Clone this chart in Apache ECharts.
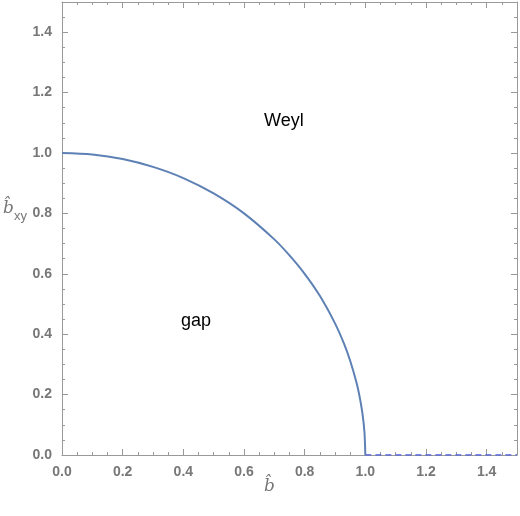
<!DOCTYPE html>
<html>
<head>
<meta charset="utf-8">
<script src="https://cdn.jsdelivr.net/npm/echarts@6/dist/echarts.min.js"></script>
<style>html,body{margin:0;padding:0;background:#fff}#chart{width:520px;height:516px}</style>
</head>
<body>
<div id="chart"></div>
<script>
// phase boundary
const boundaryB = [0, 0.1, 0.2, 0.3, 0.4, 0.5, 0.6, 0.7, 0.75, 0.8, 0.85, 0.9, 0.93, 0.95, 0.97, 0.98, 0.99, 0.997, 1.0];
const boundaryBxy = [1.0, 0.995, 0.98, 0.954, 0.917, 0.866, 0.8, 0.714, 0.661, 0.6, 0.527, 0.436, 0.368, 0.312, 0.243, 0.199, 0.141, 0.077, 0.0];
const dashedB = [1.0, 1.5];
const dashedBxy = [0, 0];
const tickLabels = ['0.0', '0.2', '0.4', '0.6', '0.8', '1.0', '1.2', '1.4'];

const chart = echarts.init(document.getElementById('chart'));

const axisCommon = {
    type: 'value', min: 0, max: 1.5, interval: 0.2,
    axisLine: { show: true, onZero: false, lineStyle: { color: '#999', width: 1 } },
    axisTick: { show: true, inside: true, length: 6, lineStyle: { color: '#999' } },
    minorTick: { show: true, splitNumber: 4, length: 3, lineStyle: { color: '#999' } },
    splitLine: { show: false },
    axisLabel: {
        color: '#777', fontSize: 14, fontWeight: 'bold', fontFamily: 'Liberation Sans', margin: 10,
        formatter: v => tickLabels[Math.round(v / 0.2)] || ''
    }
};
const hidden = { axisLabel: { show: false } };

const option = {
    animation: false,
    grid: { left: 62, right: 3, top: 2, bottom: 61 },
    xAxis: [
        Object.assign({}, axisCommon, { position: 'bottom' }),
        Object.assign({}, axisCommon, hidden, { position: 'top' })
    ],
    yAxis: [
        Object.assign({}, axisCommon, { position: 'left' }),
        Object.assign({}, axisCommon, hidden, { position: 'right' })
    ],
    series: [{
        type: 'line', smooth: 0.3, symbol: 'none',
        lineStyle: { color: '#5e81b5', width: 2 },
        data: boundaryB.map((b, i) => [b, boundaryBxy[i]])
    }, {
        type: 'line', symbol: 'none',
        lineStyle: { color: '#4f5fe0', width: 1.5, type: [6, 4] },
        data: dashedB.map((b, i) => [b, dashedBxy[i]])
    }],
    graphic: [
        { type: 'text', left: 264, top: 112, style: { text: 'Weyl', fontSize: 18, fill: '#000', fontFamily: 'Liberation Sans' } },
        { type: 'text', left: 181, top: 312, style: { text: 'gap', fontSize: 18, fill: '#000', fontFamily: 'Liberation Sans' } },
        { type: 'text', left: 264, top: 478, style: { text: 'b\u0302', fontSize: 17, fontStyle: 'italic', fill: '#777', fontFamily: 'DejaVu Serif' } },
        { type: 'text', left: 3, top: 200, style: { text: 'b\u0302', fontSize: 17, fontStyle: 'italic', fill: '#777', fontFamily: 'DejaVu Serif' } },
        { type: 'text', left: 14, top: 210, style: { text: 'xy', fontSize: 13, fill: '#777', fontFamily: 'Liberation Sans' } }
    ]
};
chart.setOption(option);
</script>
</body>
</html>
